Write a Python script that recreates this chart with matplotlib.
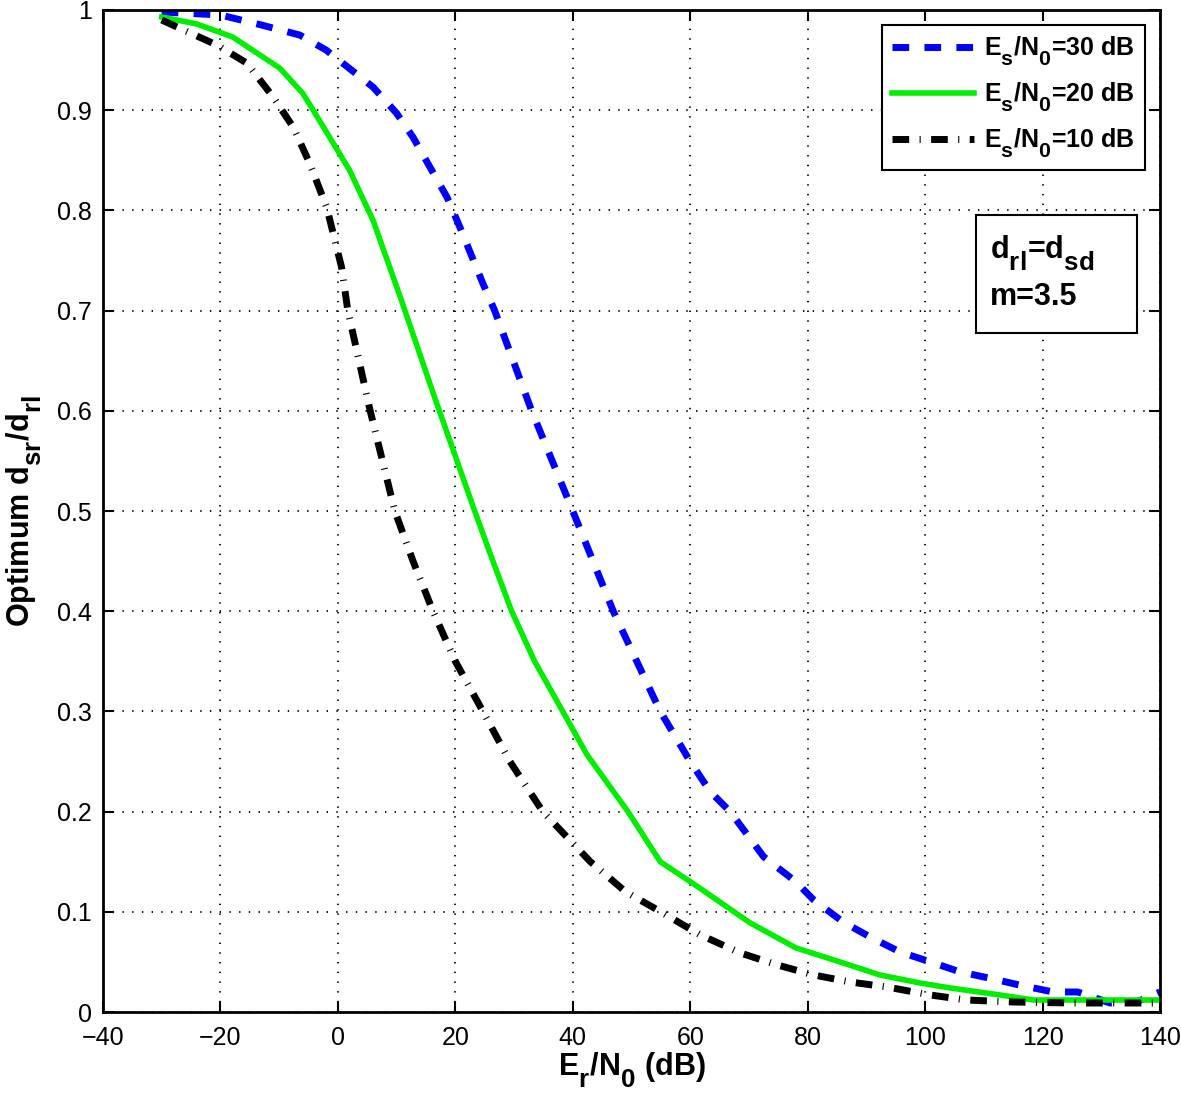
import matplotlib
matplotlib.use('Agg')
import matplotlib.pyplot as plt
import matplotlib._mathtext as mtext
from matplotlib.patches import Rectangle

# MATLAB draws sub-scripts almost full size and well below the baseline
mtext.SHRINK_FACTOR = 0.85
mtext.FontConstantsBase.sub1 = 0.75

plt.rcParams['font.family'] = ['Liberation Sans', 'DejaVu Sans']
plt.rcParams['mathtext.fontset'] = 'custom'
plt.rcParams['mathtext.rm'] = 'Liberation Sans:bold'
plt.rcParams['mathtext.bf'] = 'Liberation Sans:bold'
plt.rcParams['mathtext.it'] = 'Liberation Sans:bold'
plt.rcParams['lines.scale_dashes'] = False

# Es/N0 = 30 dB
x30 = [-30, -20, -13, -6.5, -2, 6, 10, 12.8, 15.7, 18.6, 20.8, 24.7, 26.7, 33, 40,
       46.9, 54.9, 60, 63.4, 66.8, 72.5, 78, 81, 86, 90.6, 95.7, 100.9, 106, 111.6, 116,
       121.8, 126, 131.5, 136, 140]
y30 = [0.998, 0.995, 0.985, 0.975, 0.96, 0.923, 0.897, 0.873, 0.843, 0.813, 0.783, 0.727,
       0.7, 0.6, 0.5, 0.4, 0.3, 0.25, 0.22, 0.2, 0.155, 0.13, 0.112, 0.09, 0.075, 0.06,
       0.05, 0.04, 0.033, 0.027, 0.02, 0.02, 0.009, 0.01, 0.02]

# Es/N0 = 20 dB
x20 = [-30, -24, -17.9, -9.9, -6, -4.2, 2, 6, 10.6, 16.5, 23.3, 26.4, 29.6, 33.5, 38.3,
       42.4, 49.4, 54.9, 61.3, 70.2, 78, 85.5, 92.3, 99.1, 104.3, 112.8, 118.4, 130, 140]
y20 = [0.993, 0.986, 0.973, 0.942, 0.917, 0.9, 0.84, 0.79, 0.714, 0.613, 0.5, 0.45, 0.4,
       0.35, 0.3, 0.257, 0.2, 0.15, 0.125, 0.089, 0.064, 0.05, 0.037, 0.029, 0.024,
       0.017, 0.012, 0.012, 0.012]

# Es/N0 = 10 dB
x10 = [-30, -27, -20.6, -15.5, -11, -7.6, -4.8, -1.9, 0.6, 1.7, 5.5, 9.7, 12.8, 16.2,
       20, 24.7, 29.3, 34.9, 43, 49, 55, 61.7, 68.5, 74.8, 81, 87.2, 93.5, 100.9, 107,
       115, 125, 140]
y10 = [0.99, 0.982, 0.965, 0.947, 0.913, 0.883, 0.847, 0.803, 0.744, 0.7, 0.6, 0.5, 0.45,
       0.4, 0.35, 0.3, 0.25, 0.2, 0.15, 0.12, 0.1, 0.077, 0.059, 0.047, 0.037, 0.03,
       0.025, 0.017, 0.012, 0.01, 0.009, 0.009]

labels = [r'E$_\mathbf{s}$/N$_\mathbf{0}$=30 dB', r'E$_\mathbf{s}$/N$_\mathbf{0}$=20 dB',
          r'E$_\mathbf{s}$/N$_\mathbf{0}$=10 dB']

fig = plt.figure(figsize=(11.81, 10.98), dpi=100)
ax = fig.add_axes([0.0872, 0.0783, 0.895, 0.9126])

ax.plot(x30, y30, color='#0000ff', lw=5, linestyle=(0, (12, 11)), label=labels[0])
ax.plot(x20, y20, color='#00ee00', lw=4, label=labels[1])
ax.plot(x10, y10, color='black', lw=5, linestyle=(0, (12, 7.5, 0.8, 7.5)), label=labels[2])

ax.set_xlim(-40, 140)
ax.set_ylim(0, 1)
ax.set_xticks(range(-40, 141, 20))
ax.set_yticks([i / 10 for i in range(11)])
ax.set_xticklabels(['\u221240', '\u221220', '0', '20', '40', '60', '80', '100', '120', '140'])
ax.set_yticklabels(['0', '0.1', '0.2', '0.3', '0.4', '0.5', '0.6', '0.7', '0.8', '0.9', '1'])
ax.tick_params(direction='in', length=8, width=1.5, labelsize=18, top=True, right=True, pad=8)
ax.tick_params(axis='x', pad=10)
ax.grid(True, color='black', linestyle=(0, (1, 6)), linewidth=1.3)
for s in ax.spines.values():
    s.set_linewidth(2)

ax.set_xlabel(r'E$_\mathbf{r}$/N$_\mathbf{0}$ (dB)', fontsize=22, fontweight='bold', labelpad=0)
ax.set_ylabel(r'Optimum d$_\mathbf{sr}$/d$_\mathbf{rl}$', fontsize=22, fontweight='bold',
              labelpad=9)

leg = ax.legend(loc='upper right', prop={'size': 18, 'weight': 'bold'}, frameon=True,
                fancybox=False, edgecolor='black', framealpha=1, borderaxespad=0.6,
                handlelength=3.3, labelspacing=0.5, borderpad=0.4, handletextpad=0.4)
leg.get_frame().set_linewidth(1.5)

ax.add_patch(Rectangle((0.826, 0.678), 0.152, 0.117, transform=ax.transAxes,
                       facecolor='white', edgecolor='black', lw=1.5, zorder=5))
ax.text(0.839, 0.752, r'd$_\mathbf{rl}$=d$_\mathbf{sd}$', transform=ax.transAxes,
        fontsize=22, fontweight='bold', va='baseline', ha='left', zorder=6)
ax.text(0.839, 0.706, 'm=3.5', transform=ax.transAxes,
        fontsize=22, fontweight='bold', va='baseline', ha='left', zorder=6)

fig.savefig('out.png', dpi=100)
